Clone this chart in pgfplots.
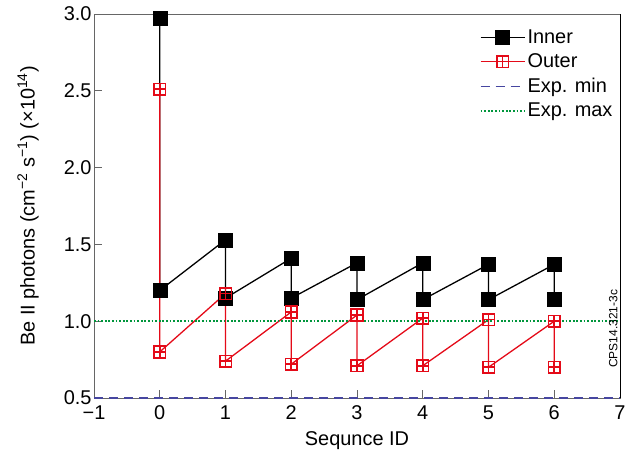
\documentclass[border=0pt]{standalone}
\usepackage{pgfplots}
\pgfplotsset{compat=1.18}
\usepackage{fontspec}
\setmainfont{Liberation Sans}
\definecolor{myred}{RGB}{228,10,24}
\definecolor{mygreen}{RGB}{0,150,60}
\definecolor{myblue}{RGB}{70,70,160}
\pgfdeclareplotmark{boxplus}{%
  \pgfpathrectangle{\pgfqpoint{-\pgfplotmarksize}{-\pgfplotmarksize}}{\pgfqpoint{2\pgfplotmarksize}{2\pgfplotmarksize}}%
  \pgfpathmoveto{\pgfqpoint{-\pgfplotmarksize}{0pt}}\pgfpathlineto{\pgfqpoint{\pgfplotmarksize}{0pt}}%
  \pgfpathmoveto{\pgfqpoint{0pt}{-\pgfplotmarksize}}\pgfpathlineto{\pgfqpoint{0pt}{\pgfplotmarksize}}%
  \pgfusepathqstroke}
\begin{document}
\begin{tikzpicture}
\begin{axis}[
  set layers=standard,
  scale only axis,
  width=526bp, height=384bp,
  xmin=-1, xmax=7, ymin=0.5, ymax=3.0,
  xtick={-1,0,1,2,3,4,5,6,7},
  xticklabels={−1,0,1,2,3,4,5,6,7},
  ytick={0.5,1.0,1.5,2.0,2.5,3.0},
  yticklabel style={/pgf/number format/fixed, /pgf/number format/fixed zerofill, /pgf/number format/precision=1, xshift=1bp},
  /pgf/number format/assume math mode=true,
  tick pos=left,
  tick align=inside,
  major tick length=8bp,
  every tick/.style={gray!80!black, line width=0.8pt},
  axis line style={gray!80!black, line width=0.8pt},
  tick label style={font=\fontsize{20}{24}\selectfont},
  xticklabel style={yshift=-4bp},
  every axis x label/.style={at={(rel axis cs:0.5,0)}, yshift=-43bp, anchor=center},
  every axis y label/.style={at={(rel axis cs:0,0.5)}, xshift=-66bp, rotate=90, anchor=center},
  label style={font=\fontsize{20}{24}\selectfont},
  xlabel={Sequnce ID},
  ylabel={Be II photons (cm\textsuperscript{−2} s\textsuperscript{−1}) (×10\textsuperscript{14})},
  legend style={draw=none, fill=none, font=\fontsize{20}{23}\selectfont,
    at={(rel axis cs:0.733,0.965)}, anchor=north west, inner sep=0pt, row sep=5bp,
    legend cell align=left},
  legend image code/.code={\draw[mark repeat=2,mark phase=2] plot coordinates {(0bp,0bp) (22bp,0bp) (44bp,0bp)};},
  clip=false,
]
\addplot[black, line width=1.3pt, mark=square*, mark size=7bp, mark options={solid, line width=0.5pt}] coordinates {
(0,2.97) (0,1.20) (1,1.53) (1,1.15) (2,1.41) (2,1.15) (3,1.38) (3,1.14)
(4,1.38) (4,1.14) (5,1.37) (5,1.14) (6,1.37) (6,1.14)};
\addlegendentry{Inner}
\addplot[myred, line width=1.3pt, mark=boxplus, mark size=5.8bp, mark options={solid, line width=1.6pt}] coordinates {
(0,2.51) (0,0.80) (1,1.18) (1,0.74) (2,1.06) (2,0.72) (3,1.04) (3,0.71)
(4,1.02) (4,0.71) (5,1.01) (5,0.70) (6,1.00) (6,0.70)};
\addlegendentry{Outer}
\addplot[myblue, line width=1.3pt, dash pattern=on 9bp off 6bp, on layer=axis foreground] coordinates {(-1,0.5) (7,0.5)};
\addlegendentry{Exp. min}
\addplot[mygreen, line width=1.8pt, dash pattern=on 1.8bp off 1.8bp] coordinates {(-1,1.0) (7,1.0)};
\addlegendentry{Exp. max}
\draw[black, line width=0.8pt] (rel axis cs:1,0) -- (rel axis cs:1,1);
\node[rotate=90, anchor=south, font=\fontsize{12}{14}\selectfont] at ([xshift=1bp]rel axis cs:1,0.18) {CPS14.321-3c};
\coordinate (bl) at (rel axis cs:0,0);
\coordinate (tr) at (rel axis cs:1,1);
\end{axis}
\pgfresetboundingbox
\path ([shift={(-94bp,-61bp)}]bl) rectangle ([shift={(23bp,14bp)}]tr);
\end{tikzpicture}
\end{document}
